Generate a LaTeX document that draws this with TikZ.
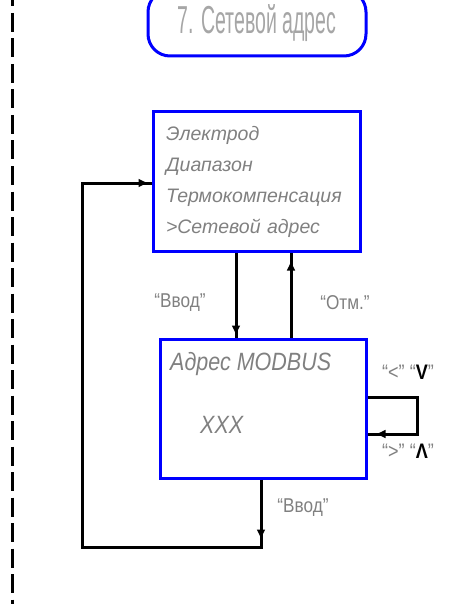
\documentclass[tikz,border=0pt]{standalone}
\usepackage{fontspec}
\setmainfont{Liberation Sans}
\newfontfamily\titlefont[FakeStretch=0.5]{Liberation Sans}
\newfontfamily\gostfont[FakeStretch=0.86]{Liberation Sans}
\usepackage{tikz}
\usetikzlibrary{arrows.meta,decorations.markings}

\tikzset{blk/.tip={Latex[length=10pt,width=9pt]}}

\begin{document}
\begin{tikzpicture}[x=1pt,y=-1pt,
    box/.style={draw=blue, line width=3pt, text=black!50},
    wire/.style={draw=black, line width=3pt},
    markat/.style={postaction={decorate,decoration={markings,mark=at position #1 with {\arrow{blk}}}}},
    lbl/.style={text=black!50, font=\gostfont\fontsize{20}{24}\selectfont},
    itext/.style={text=black!50, inner sep=0pt, font=\gostfont\itshape\fontsize{25}{30}\selectfont}]
            \useasboundingbox (0,0) rectangle (462,604);
            \draw[line width=3pt, dash pattern=on 19pt off 6.5pt] (12,-12.5) -- (12,610);

            % title
            \node (title) [draw=blue, line width=3pt, rounded corners=22pt, minimum width=218pt, minimum height=66pt,
                text=black!35, font=\titlefont\fontsize{39}{40}\selectfont] at (257,23) {7. Сетевой адрес};

            % menu and modbus boxes
            \node (menu) [box, text width=181pt, inner xsep=13pt, minimum height=139pt, align=left,
                font=\itshape\fontsize{19.5}{31}\selectfont] at (256.5,181.5)
                {Электрод\\Диапазон\\Термокомпенсация\\>Сетевой адрес};
            \node (modbus) [box, minimum width=206pt, minimum height=139pt] at (263,408.5) {};
            \node (addr) [itext, anchor=base west] at (170,370) {Адрес MODBUS};
            \node (val) [itext, anchor=base west] at (200,433) {XXX};

            % connectors
            \draw[wire, markat=-2pt] ([xshift=-20.5pt]menu.south) -- ([xshift=-27pt]modbus.north);
            \draw[wire, markat=-8pt] ([xshift=28pt]modbus.north) -- ([xshift=34.5pt]menu.south);
            \draw[wire, markat=-8pt] ([yshift=11.5pt]modbus.east) -- ++(50,0) |- ([yshift=-25.5pt]modbus.east);
            \coordinate (corner) at (82,547);
            \draw[wire, markat=60pt, markat=-3pt] ([xshift=-2pt]modbus.south) |- (corner) |- ([yshift=-1.5pt]menu.west);

            \node (enter) [lbl] at (180,303) {“Ввод”};
            \node (cancel) [lbl] at (345,303) {“Отм.”};
            \node (enter2) [lbl] at (303,508) {“Ввод”};
            \node (keyup) [lbl, font=\gostfont\fontsize{21}{24}\selectfont] at (408,372) {“<” “\textbf{\color{black}V}”};
            \node (keydn) [lbl, font=\gostfont\fontsize{21}{24}\selectfont] at (408,451) {“>” “\textbf{\color{black}Λ}”};
         \end{tikzpicture}
\end{document}
